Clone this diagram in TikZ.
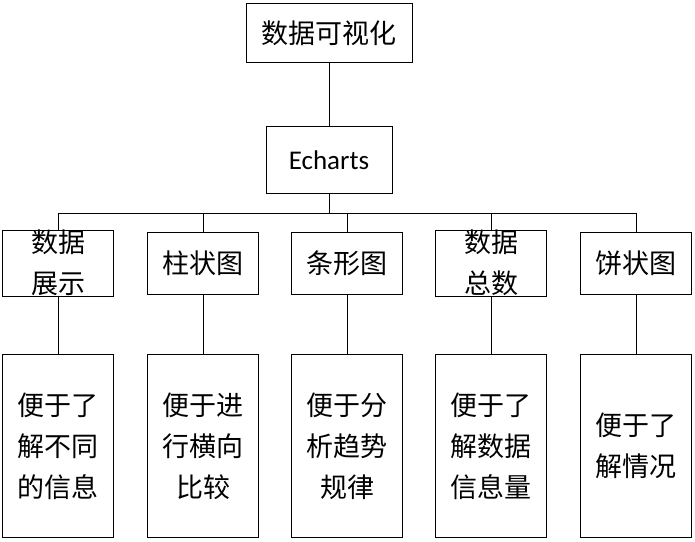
\documentclass[tikz,border=0pt]{standalone}
\usepackage{fontspec}
\setmainfont{Carlito}
\newfontfamily\cjk{Noto Sans CJK SC}
\usetikzlibrary{positioning}

\tikzset{
  box/.style={draw=black, thick, fill=white, align=center, inner sep=0pt,
    font=\cjk\fontsize{27}{41}\selectfont},
  mid/.style={box, minimum width=111pt, minimum height=62pt},
  low/.style={box, minimum width=111pt, minimum height=183pt},
  link/.style={draw=black, thick}
}

\begin{document}
\begin{tikzpicture}[x=1pt,y=-1pt]
  \useasboundingbox (0,0) rectangle (695,541);
  \node[box, minimum width=166pt, minimum height=59pt] (top) at (329,33) {数据可视化};
  \node[box, minimum width=126pt, minimum height=67pt, font=\fontsize{27}{32}\selectfont] (ech) at (329,160) {Echarts};
  \coordinate (bus) at (329,213);

  \node[mid] (m1) at (58,263) {数据\\展示};
  \node[mid] (m2) at (203,263) {柱状图};
  \node[mid] (m3) at (347,263) {条形图};
  \node[mid] (m4) at (491,263) {数据\\总数};
  \node[mid] (m5) at (636,263) {饼状图};

  \node[low] (l1) at (58,446) {便于了\\解不同\\的信息};
  \node[low] (l2) at (203,446) {便于进\\行横向\\比较};
  \node[low] (l3) at (347,446) {便于分\\析趋势\\规律};
  \node[low] (l4) at (491,446) {便于了\\解数据\\信息量};
  \node[low] (l5) at (636,446) {便于了\\解情况};

  \draw[link] (top) -- (ech);
  \draw[link] (ech) -- (bus);
  \draw[link] (58,213) -- (636,213);
  \foreach \i in {1,...,5} {
    \draw[link] (m\i.north |- bus) -- (m\i.north);
    \draw[link] (m\i) -- (l\i);
  }
\end{tikzpicture}
\end{document}
